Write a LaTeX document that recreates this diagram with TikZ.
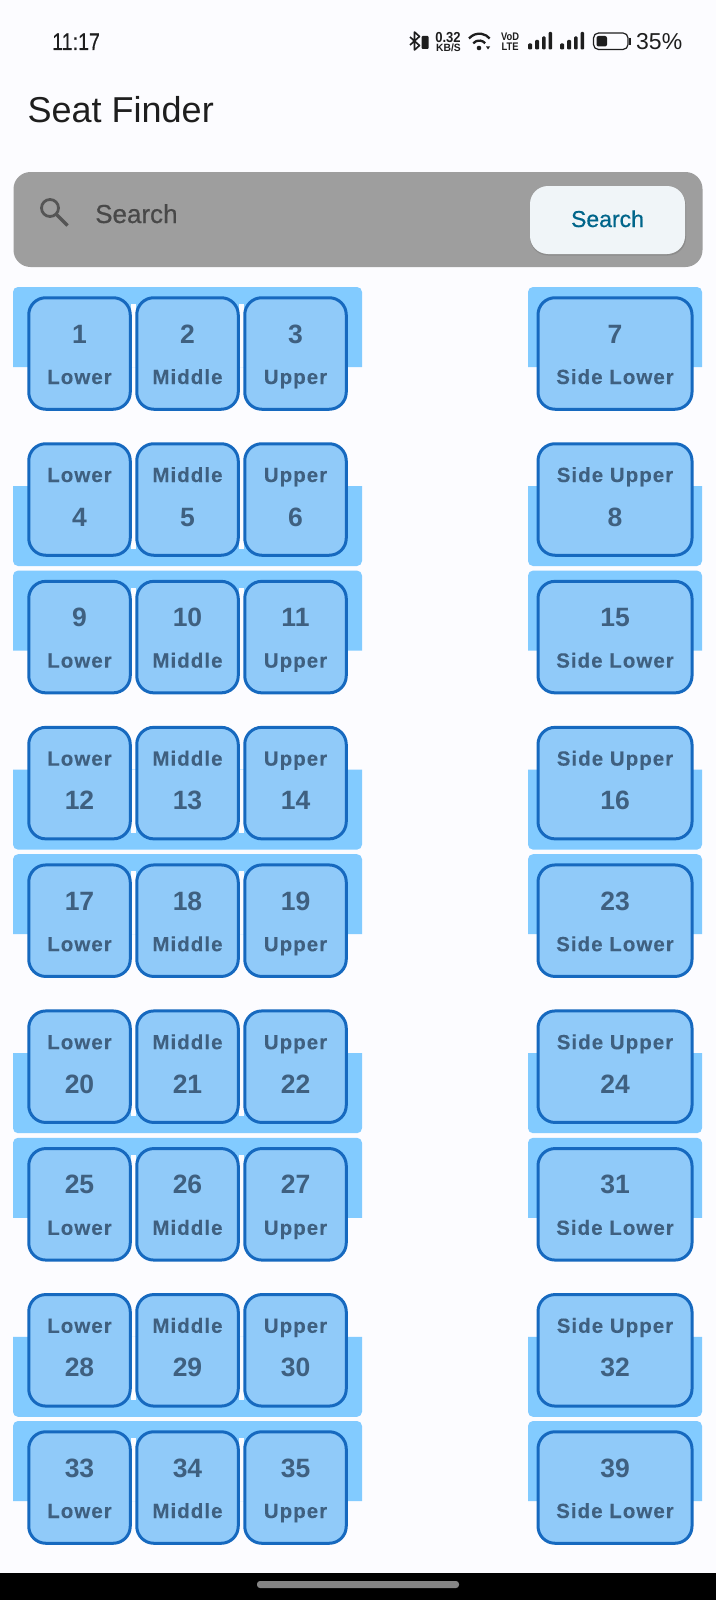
\documentclass[tikz,border=0pt]{standalone}
\usepackage{fontspec}
\setmainfont{Liberation Sans}
\newfontfamily\seatlabfont[LetterSpace=5,FakeBold=0.2]{Liberation Sans}
\newfontfamily\medfont[FakeBold=0.6]{Liberation Sans}
\newfontfamily\clockfont[FakeBold=0.3]{Liberation Sans}
\definecolor{pagebg}{HTML}{FCFCFF}
\definecolor{bandc}{HTML}{82CBFF}
\definecolor{seatc}{HTML}{90CAF9}
\definecolor{seatedge}{HTML}{1669BF}
\definecolor{seattext}{HTML}{3F6080}
\definecolor{ink}{HTML}{1E1E1E}
\definecolor{barc}{HTML}{9E9E9E}
\definecolor{btnc}{HTML}{F0F5F8}
\definecolor{btntext}{HTML}{00658A}
\definecolor{hint}{HTML}{484848}
\newcommand{\fs}[1]{\fontsize{#1}{#1}\selectfont}
\tikzset{
  seatbox/.style={draw=seatedge,fill=seatc,line width=3pt,rounded corners=17pt,inner sep=0pt,outer sep=0pt,minimum height=111.5pt},
  wideseat/.style={seatbox,minimum width=101.5pt},
  sideseat/.style={seatbox,minimum width=154pt},
  numtext/.style={anchor=base,inner sep=0pt,text=seattext,font=\fs{26.5}\bfseries},
  labtext/.style={anchor=base,inner sep=0pt,text=seattext,font=\seatlabfont\fs{20.5}\bfseries},
  plain/.style={inner sep=0pt,text=ink},
  bandfill/.style={fill=bandc},
  gapfill/.style={fill=pagebg},
  bars/.style={fill=ink,rounded corners=1pt}
}
\newcommand{\seatat}[7]{% style, num, label, cx, top, numoffset, laboffset
  \pgfmathsetmacro{\cy}{#5+56.5}
  \pgfmathsetmacro{\ny}{#5+#6}
  \pgfmathsetmacro{\ly}{#5+#7}
  \node[#1] (s#2) at (#4,\cy) {};
  \node[numtext] (n#2) at (#4,\ny) {#2};
  \node[labtext] (t#2) at (#4,\ly) {#3};
}
\newcommand{\toprow}[5]{% y0 = band top; numbers a b c d
  \pgfmathsetmacro{\ba}{#1}\pgfmathsetmacro{\bb}{#1+80}
  \pgfmathsetmacro{\st}{#1+10}\pgfmathsetmacro{\gt}{#1+17}
  \fill[bandfill] (13,\bb) [rounded corners=5pt] -- (13,\ba) -- (362,\ba) [sharp corners] -- (362,\bb) -- cycle;
  \fill[bandfill] (528,\bb) [rounded corners=5pt] -- (528,\ba) -- (702,\ba) [sharp corners] -- (702,\bb) -- cycle;
  \fill[gapfill] (131,\gt) rectangle (136,\bb);
  \fill[gapfill] (239,\gt) rectangle (244,\bb);
  \seatat{wideseat}{#2}{Lower}{79.5}{\st}{46}{87}
  \seatat{wideseat}{#3}{Middle}{187.5}{\st}{46}{87}
  \seatat{wideseat}{#4}{Upper}{295.5}{\st}{46}{87}
  \seatat{sideseat}{#5}{Side Lower}{615}{\st}{46}{87}
}
\newcommand{\botrow}[5]{% y0 = band top; numbers a b c d
  \pgfmathsetmacro{\ba}{#1}\pgfmathsetmacro{\bb}{#1+80}
  \pgfmathsetmacro{\st}{#1-43}\pgfmathsetmacro{\gt}{#1+63}
  \fill[bandfill] (13,\ba) [rounded corners=5pt] -- (13,\bb) -- (362,\bb) [sharp corners] -- (362,\ba) -- cycle;
  \fill[bandfill] (528,\ba) [rounded corners=5pt] -- (528,\bb) -- (702,\bb) [sharp corners] -- (702,\ba) -- cycle;
  \fill[gapfill] (131,\ba) rectangle (136,\gt);
  \fill[gapfill] (239,\ba) rectangle (244,\gt);
  \seatat{wideseat}{#2}{Lower}{79.5}{\st}{83}{39}
  \seatat{wideseat}{#3}{Middle}{187.5}{\st}{83}{39}
  \seatat{wideseat}{#4}{Upper}{295.5}{\st}{83}{39}
  \seatat{sideseat}{#5}{Side Upper}{615}{\st}{83}{39}
}
\newcommand{\sigbars}[1]{%
  \fill[bars] (#1,43.5) rectangle ++(4,6);
  \fill[bars] (#1+7,40) rectangle ++(4,9.5);
  \fill[bars] (#1+14,36.5) rectangle ++(3.5,13);
  \fill[bars] (#1+20.5,32) rectangle ++(3.5,17.5);
}
\begin{document}
\begin{tikzpicture}[x=1pt,y=-1pt]
\useasboundingbox (0,0) rectangle (716,1600);
\fill[pagebg] (0,0) rectangle (716,1600);
% bottom bar
\fill[black] (0,1573) rectangle (716,1600);
\fill[black!48,rounded corners=3pt] (257,1581) rectangle (459,1588);
% status bar
\node[plain,anchor=base west,font=\clockfont\fs{24},xscale=.82] (clock) at (52,50) {11:17};
\draw[ink,line width=1.6pt,line join=round] (410,37)--(419.5,45.5)--(414.5,50)--(414.5,32)--(419.5,36.5)--(410,45);
\fill[ink,rounded corners=1pt] (421.5,36) rectangle (428.5,49);
\node[plain,anchor=base,font=\fs{14.5}\bfseries,xscale=.9] (speed) at (448,42.5) {0.32};
\node[plain,anchor=base,font=\fs{10.5}\bfseries,xscale=.98] (unit) at (448.5,51.5) {KB/S};
\draw[ink,line width=2.3pt] (469,38.5) arc[start angle=140,end angle=40,radius=13.5pt];
\draw[ink,line width=2.3pt] (473.2,43.3) arc[start angle=140,end angle=40,radius=7.8pt];
\fill[ink] (479,48) circle[radius=2.3pt];
\fill[ink] (486,46.5) -- (490,46.5) -- (488,49.5) -- cycle;
\node[plain,anchor=base,font=\fs{11}\bfseries,xscale=.85] (vod) at (510,41) {VoD};
\node[plain,anchor=base,font=\fs{11}\bfseries,xscale=.85] (lte) at (510,50.5) {LTE};
\sigbars{528}
\sigbars{560}
\draw[ink,line width=1.2pt,rounded corners=5pt] (593.5,33) rectangle (628,49.5);
\fill[ink,rounded corners=2pt] (596.5,36) rectangle (607,46.5);
\draw[ink,line width=1.4pt] (630,38) -- (630,45);
\node[plain,anchor=base west,font=\fs{23}] (batt) at (636,50) {35\%};
% title
\node[plain,anchor=base west,font=\fs{36}] (title) at (27.5,123) {Seat Finder};
% search bar
\node[fill=barc,rounded corners=17pt,inner sep=0pt,outer sep=0pt,minimum width=689pt,minimum height=95pt] (bar) at (358,219.5) {};
\draw[hint!85!barc,line width=2.8pt] (50,208) circle[radius=8.5pt];
\draw[hint!85!barc,line width=3.5pt] (56.5,214.5) -- (67.5,225.5);
\node[anchor=base west,inner sep=0pt,text=hint,font=\medfont\fs{26}] (hinttext) at (95,223) {Search};
\fill[black!45,rounded corners=18pt] (530,188) rectangle (686,255.5);
\node[fill=btnc,rounded corners=18pt,inner sep=0pt,outer sep=0pt,minimum width=155pt,minimum height=68pt] (btn) at (607.5,220) {};
\node[anchor=base,inner sep=0pt,text=btntext,font=\medfont\fs{23}] (btntxt) at (607.5,227) {Search};
% seats
\toprow{287}{1}{2}{3}{7}
\botrow{486}{4}{5}{6}{8}
\toprow{570.6}{9}{10}{11}{15}
\botrow{769.6}{12}{13}{14}{16}
\toprow{854.2}{17}{18}{19}{23}
\botrow{1053.2}{20}{21}{22}{24}
\toprow{1137.8}{25}{26}{27}{31}
\botrow{1336.8}{28}{29}{30}{32}
\toprow{1421}{33}{34}{35}{39}
\end{tikzpicture}
\end{document}
